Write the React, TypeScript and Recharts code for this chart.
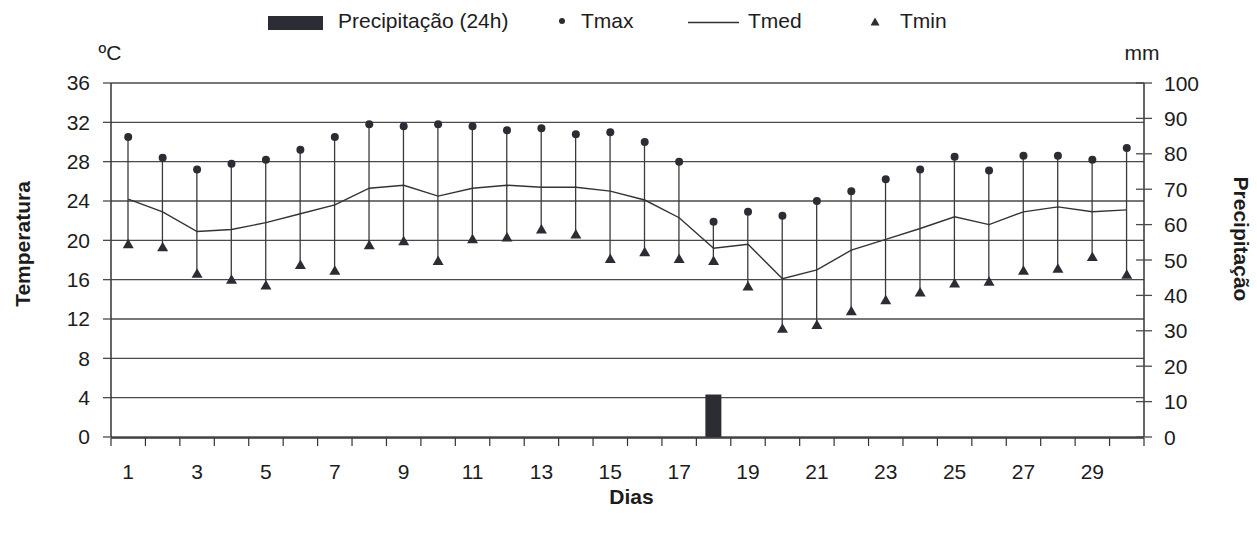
import React from 'react';
import {
  ComposedChart, Line, Bar, XAxis, YAxis, CartesianGrid,
} from 'recharts';

const days = [1,2,3,4,5,6,7,8,9,10,11,12,13,14,15,16,17,18,19,20,21,22,23,24,25,26,27,28,29,30];
const tmax = [30.5, 28.4, 27.2, 27.8, 28.2, 29.2, 30.5, 31.8, 31.6, 31.8, 31.6, 31.2, 31.4, 30.8, 31.0, 30.0, 28.0, 21.9, 22.9, 22.5, 24.0, 25.0, 26.2, 27.2, 28.5, 27.1, 28.6, 28.6, 28.2, 29.4];
const tmed = [24.2, 22.9, 20.9, 21.1, 21.8, 22.7, 23.6, 25.3, 25.6, 24.5, 25.3, 25.6, 25.4, 25.4, 25.0, 24.1, 22.3, 19.2, 19.6, 16.1, 17.0, 19.0, 20.1, 21.2, 22.4, 21.6, 22.9, 23.4, 22.9, 23.1];
const tmin = [19.6, 19.3, 16.6, 16.0, 15.4, 17.5, 16.9, 19.5, 19.9, 17.9, 20.1, 20.3, 21.1, 20.6, 18.1, 18.8, 18.1, 17.9, 15.3, 11.0, 11.4, 12.8, 13.9, 14.7, 15.6, 15.8, 16.9, 17.1, 18.3, 16.5];
const precip = [0,0,0,0,0,0,0,0,0,0,0,0,0,0,0,0,0,12,0,0,0,0,0,0,0,0,0,0,0,0];

const xLabels = [1,3,5,7,9,11,13,15,17,19,21,23,25,27,29];
const xBoundaries = [0.5,1.5,2.5,3.5,4.5,5.5,6.5,7.5,8.5,9.5,10.5,11.5,12.5,13.5,14.5,15.5,16.5,17.5,18.5,19.5,20.5,21.5,22.5,23.5,24.5,25.5,26.5,27.5,28.5,29.5,30.5];
const tempTicks = [0,4,8,12,16,20,24,28,32,36];
const rainTicks = [0,10,20,30,40,50,60,70,80,90,100];

const data = days.map((d, i) => ({
  day: d,
  tmax: tmax[i],
  tmed: tmed[i],
  tmin: tmin[i],
  range: [tmin[i], tmax[i]],
  precip: precip[i],
}));

const FONT = '"Liberation Sans", Arial, Helvetica, sans-serif';
const INK = '#1c1c1c';
const MARK = '#2c2c34';
const GRID = '#4a4a4a';

const StemShape = (props: any) => {
  const { x, y, width, height } = props;
  if (x == null || y == null) return null;
  const cx = x + width / 2;
  const y1 = Math.min(y, y + height);
  const y2 = Math.max(y, y + height);
  return <line x1={cx} x2={cx} y1={y1} y2={y2} stroke="#3a3a3a" strokeWidth={1.3} />;
};

const CircleDot = (props: any) => {
  const { cx, cy, index } = props;
  if (cx == null || cy == null) return <g key={`c${index}`} />;
  return <circle key={`c${index}`} cx={cx} cy={cy} r={4} fill={MARK} />;
};

const TriDot = (props: any) => {
  const { cx, cy, index } = props;
  if (cx == null || cy == null) return <g key={`t${index}`} />;
  const d = `M${cx},${cy - 5.5} L${cx + 5.5},${cy + 4} L${cx - 5.5},${cy + 4} Z`;
  return <path key={`t${index}`} d={d} fill={MARK} />;
};

const EmptyTick = () => <g />;

const RightTick = (props: any) => {
  const { x, y, payload } = props;
  return (
    <g>
      <line x1={x - 28} x2={x - 12} y1={y} y2={y} stroke={GRID} strokeWidth={1.3} />
      <text x={x} y={y} dy="0.36em" textAnchor="start" fontSize={21} fontFamily={FONT} fill={INK}>
        {payload.value}
      </text>
    </g>
  );
};

const LeftLabel = (props: any) => {
  const vb = props.viewBox;
  return (
    <g>
      <text x={vb.x + vb.width - 1} y={vb.y - 31} textAnchor="middle" dominantBaseline="central" fontSize={21} fontFamily={FONT} fill={INK}>ºC</text>
      <text transform={`translate(${vb.x + 22},${vb.y + vb.height / 2 - 16}) rotate(-90)`} textAnchor="middle" dominantBaseline="central" fontSize={21} fontWeight="bold" fontFamily={FONT} fill={INK}>Temperatura</text>
    </g>
  );
};

const RightLabel = (props: any) => {
  const vb = props.viewBox;
  return (
    <g>
      <text x={vb.x - 2} y={vb.y - 31} textAnchor="middle" dominantBaseline="central" fontSize={21} fontFamily={FONT} fill={INK}>mm</text>
      <text transform={`translate(${vb.x + 97},${vb.y + vb.height / 2 - 21}) rotate(90)`} textAnchor="middle" dominantBaseline="central" fontSize={21} fontWeight="bold" fontFamily={FONT} fill={INK}>Precipitação</text>
    </g>
  );
};

const XLabel = (props: any) => {
  const vb = props.viewBox;
  return (
    <text x={vb.x + vb.width / 2 + 4} y={vb.y + 59} textAnchor="middle" dominantBaseline="central" fontSize={21} fontWeight="bold" fontFamily={FONT} fill={INK}>Dias</text>
  );
};

const LegendOverlay = () => (
  <svg width={1257} height={40} style={{ position: 'absolute', left: 0, top: 0 }}>
    <rect x={268} y={16} width={55} height={14} fill={MARK} />
    <text x={338} y={28} fontSize={21} fontFamily={FONT} fill={INK}>Precipitação (24h)</text>
    <circle cx={562} cy={21} r={3} fill={MARK} />
    <text x={581} y={28} fontSize={21} fontFamily={FONT} fill={INK}>Tmax</text>
    <line x1={688} x2={739} y1={22.5} y2={22.5} stroke="#333" strokeWidth={1.3} />
    <text x={748} y={28} fontSize={21} fontFamily={FONT} fill={INK}>Tmed</text>
    <path d="M875,17.5 L879.5,25.5 L870.5,25.5 Z" fill={MARK} />
    <text x={900} y={28} fontSize={21} fontFamily={FONT} fill={INK}>Tmin</text>
  </svg>
);

export default function App() {
  return (
    <div style={{ position: 'absolute', left: 0, top: 0, width: 1257, height: 533, background: '#fff' }}>
      <ComposedChart
        width={1257}
        height={533}
        data={data}
        margin={{ top: 83, right: 0, bottom: 0, left: 0 }}
      >
        <CartesianGrid xAxisId="num" yAxisId="left" vertical={false} stroke={GRID} strokeWidth={1.3} />
        <XAxis
          xAxisId="num"
          type="number"
          dataKey="day"
          domain={[0.5, 30.5]}
          ticks={xBoundaries}
          interval={0}
          tick={<EmptyTick />}
          tickSize={8}
          height={95}
          axisLine={{ stroke: '#333', strokeWidth: 1.5 }}
          tickLine={{ stroke: '#333', strokeWidth: 1.2 }}
          allowDataOverflow
        />
        <XAxis
          xAxisId="cat"
          type="category"
          dataKey="day"
          ticks={xLabels}
          interval={0}
          height={1}
          tickSize={0}
          tickMargin={27}
          axisLine={false}
          tickLine={false}
          tick={{ fontSize: 21, fontFamily: FONT, fill: INK }}
          label={<XLabel />}
        />
        <YAxis
          yAxisId="left"
          domain={[0, 36]}
          ticks={tempTicks}
          width={111}
          tickSize={8}
          tickMargin={13}
          axisLine={{ stroke: '#333', strokeWidth: 1.5 }}
          tickLine={{ stroke: GRID, strokeWidth: 1.3 }}
          tick={{ fontSize: 21, fontFamily: FONT, fill: INK }}
          label={<LeftLabel />}
        />
        <YAxis
          yAxisId="right"
          orientation="right"
          domain={[0, 100]}
          ticks={rainTicks}
          width={113}
          tickSize={8}
          tickMargin={12}
          axisLine={{ stroke: '#333', strokeWidth: 1.5 }}
          tickLine={false}
          tick={<RightTick />}
          label={<RightLabel />}
        />
        <Bar
          xAxisId="num"
          yAxisId="right"
          dataKey="precip"
          barSize={16}
          fill={MARK}
          isAnimationActive={false}
        />
        <Bar
          xAxisId="cat"
          yAxisId="left"
          dataKey="range"
          barSize={2}
          shape={<StemShape />}
          isAnimationActive={false}
        />
        <Line
          xAxisId="cat"
          yAxisId="left"
          dataKey="tmed"
          stroke="#333"
          strokeWidth={1.4}
          dot={false}
          activeDot={false}
          isAnimationActive={false}
        />
        <Line
          xAxisId="cat"
          yAxisId="left"
          dataKey="tmax"
          stroke="none"
          dot={CircleDot}
          activeDot={false}
          isAnimationActive={false}
        />
        <Line
          xAxisId="cat"
          yAxisId="left"
          dataKey="tmin"
          stroke="none"
          dot={TriDot}
          activeDot={false}
          isAnimationActive={false}
        />
      </ComposedChart>
      <LegendOverlay />
    </div>
  );
}
